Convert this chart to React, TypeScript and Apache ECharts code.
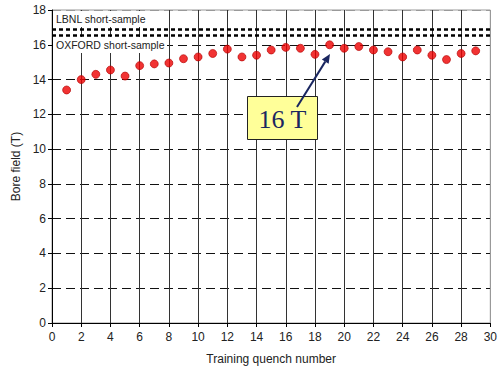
import React, { useEffect, useRef } from "react";
import * as echarts from "echarts";

const quenchNumbers = [1, 2, 3, 4, 5, 6, 7, 8, 9, 10, 11, 12, 13, 14, 15, 16, 17, 18, 19, 20, 21, 22, 23, 24, 25, 26, 27, 28, 29];
const boreField = [13.4, 14.0, 14.3, 14.55, 14.2, 14.8, 14.9, 14.95, 15.2, 15.3, 15.5, 15.75, 15.3, 15.4, 15.7, 15.85, 15.8, 15.45, 16.0, 15.8, 15.9, 15.7, 15.6, 15.3, 15.7, 15.4, 15.15, 15.5, 15.65];
const shortSampleLimits = [
  { name: "LBNL short-sample", value: 16.9 },
  { name: "OXFORD short-sample", value: 16.55 },
];
const xTicks = [0, 2, 4, 6, 8, 10, 12, 14, 16, 18, 20, 22, 24, 26, 28, 30];
const yTicks = [0, 2, 4, 6, 8, 10, 12, 14, 16, 18];
const annotationText = "16 T";

const FONT = "Liberation Sans, Arial, sans-serif";

export default function App() {
  const ref = useRef<HTMLDivElement>(null);
  useEffect(() => {
    if (!ref.current) return;
    const chart = echarts.init(ref.current, undefined, { renderer: "svg" });
    const xSplitColors = xTicks.map((t, i) => (i === xTicks.length - 1 ? "#999" : "#333"));
    const ySplitColors = yTicks.map((t, i) => (i === yTicks.length - 1 ? "#999" : "#111"));
    // arrow geometry
    const ax0 = 297, ay0 = 107, ax1 = 330, ay1 = 54;
    const dx = ax1 - ax0, dy = ay1 - ay0;
    const len = Math.sqrt(dx * dx + dy * dy);
    const ux = dx / len, uy = dy / len;
    const hl = 9, hw = 4;
    const bx = ax1 - ux * hl, by = ay1 - uy * hl;
    const px = -uy, py = ux;
    chart.setOption({
      animation: false,
      backgroundColor: "#fff",
      grid: {
        left: 52,
        right: 7,
        top: 10,
        bottom: 51,
        show: true,
        borderColor: "#999",
        borderWidth: 1,
        backgroundColor: "transparent",
      },
      xAxis: {
        type: "value",
        min: 0,
        max: 30,
        interval: 2,
        name: "Training quench number",
        nameLocation: "middle",
        nameGap: 30,
        nameTextStyle: { fontFamily: FONT, fontSize: 12, color: "#222" },
        axisLine: { show: true, onZero: false, lineStyle: { color: "#000", width: 1 } },
        axisTick: { show: true, length: 4, lineStyle: { color: "#000" } },
        axisLabel: { fontFamily: FONT, fontSize: 12, color: "#222", margin: 8 },
        splitLine: { show: true, lineStyle: { color: xSplitColors, width: 1, type: "solid" } },
      },
      yAxis: {
        type: "value",
        min: 0,
        max: 18,
        interval: 2,
        name: "Bore field (T)",
        nameLocation: "middle",
        nameGap: 24,
        nameTextStyle: { fontFamily: FONT, fontSize: 12, color: "#222" },
        axisLine: { show: true, onZero: false, lineStyle: { color: "#000", width: 1 } },
        axisTick: { show: true, length: 4, lineStyle: { color: "#000" } },
        axisLabel: { fontFamily: FONT, fontSize: 12, color: "#222", margin: 6 },
        splitLine: { show: true, lineStyle: { color: ySplitColors, width: 1, type: [9, 5] } },
      },
      series: [
        {
          type: "scatter",
          data: quenchNumbers.map((q, i) => [q, boreField[i]]),
          symbol: "circle",
          symbolSize: 8,
          itemStyle: { color: "#ee0000", borderColor: "#b00000", borderWidth: 0.8 },
          z: 5,
          markLine: {
            silent: true,
            symbol: ["none", "none"],
            label: { show: false },
            lineStyle: { color: "#000", width: 2.5, type: [4, 3] },
            data: shortSampleLimits.map((s) => ({ yAxis: s.value, name: s.name })),
          },
        },
      ],
      graphic: [
        {
          type: "rect",
          z: 20,
          shape: { x: 53, y: 11, width: 114, height: 16 },
          style: { fill: "#fff" },
        },
        {
          type: "text",
          z: 21,
          x: 56,
          y: 19,
          style: {
            text: shortSampleLimits[0].name,
            font: `10.5px ${FONT}`,
            fill: "#222",
            verticalAlign: "middle",
          },
        },
        {
          type: "rect",
          z: 20,
          shape: { x: 53, y: 37, width: 114, height: 16 },
          style: { fill: "#fff" },
        },
        {
          type: "text",
          z: 21,
          x: 56,
          y: 45,
          style: {
            text: shortSampleLimits[1].name,
            font: `10.5px ${FONT}`,
            fill: "#222",
            verticalAlign: "middle",
          },
        },
        {
          type: "rect",
          z: 30,
          shape: { x: 247.5, y: 96.5, width: 70, height: 43 },
          style: { fill: "#ffff99", stroke: "#222", lineWidth: 1 },
        },
        {
          type: "text",
          z: 31,
          x: 282.5,
          y: 119,
          style: {
            text: annotationText,
            font: `26px "Liberation Serif", "Times New Roman", serif`,
            fill: "#1a2660",
            align: "center",
            verticalAlign: "middle",
          },
        },
        {
          type: "line",
          z: 32,
          shape: { x1: ax0, y1: ay0, x2: bx, y2: by },
          style: { stroke: "#1a2660", lineWidth: 2 },
        },
        {
          type: "polygon",
          z: 32,
          shape: {
            points: [
              [ax1, ay1],
              [bx + px * hw, by + py * hw],
              [bx - px * hw, by - py * hw],
            ],
          },
          style: { fill: "#1a2660" },
        },
      ],
    });
    return () => chart.dispose();
  }, []);
  return <div ref={ref} style={{ width: 500, height: 374, position: "absolute", left: 0, top: 0 }} />;
}
